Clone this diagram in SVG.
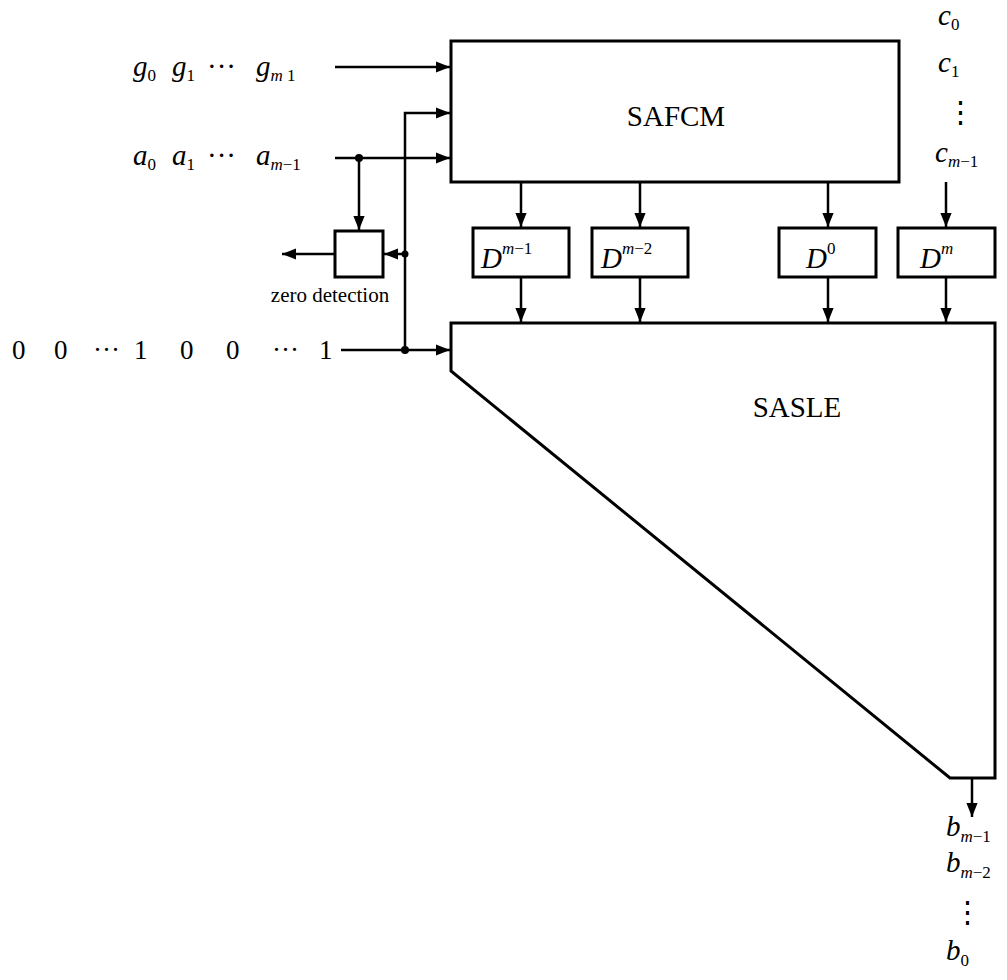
<svg xmlns="http://www.w3.org/2000/svg" width="1007" height="980" viewBox="0 0 1007 980">
<defs>
<marker id="ah" viewBox="0 0 10 10" refX="10" refY="5" markerWidth="14" markerHeight="14" markerUnits="userSpaceOnUse" orient="auto">
<path d="M0,1 L10,5 L0,9 Z" fill="#000"/>
</marker>
<style>
.box{fill:#fff;stroke:#000;stroke-width:3}
.ln{fill:none;stroke:#000;stroke-width:2.5}
.t{font-family:"Liberation Serif",serif;font-size:29px;fill:#000}
.i{font-family:"Liberation Serif",serif;font-style:italic;font-size:29px;fill:#000}
.s{font-family:"Liberation Serif",serif;font-size:17px;fill:#000}
.si{font-family:"Liberation Serif",serif;font-style:italic;font-size:17px;fill:#000}
.num{font-family:"Liberation Serif",serif;font-size:27px;fill:#000}
.lab{font-family:"Liberation Serif",serif;font-size:21px;fill:#000}
</style>
</defs>
<rect width="1007" height="980" fill="#fff"/>

<g id="safcm">
<rect class="box" x="451" y="41" width="448" height="141"/>
<text class="t" x="676" y="126" text-anchor="middle">SAFCM</text>
</g>

<g id="sasle">
<path class="box" d="M451,323 L995,323 L995,778 L950,778 L451,371 Z"/>
<text class="t" x="797" y="417" text-anchor="middle">SASLE</text>
</g>

<g id="d1">
<rect class="box" x="473" y="228" width="96" height="49"/>
<text x="481" y="268"><tspan class="i">D</tspan><tspan class="si" dy="-14">m</tspan><tspan class="s">−1</tspan></text>
</g>
<g id="d2">
<rect class="box" x="592" y="228" width="96" height="49"/>
<text x="601" y="268"><tspan class="i">D</tspan><tspan class="si" dy="-14">m</tspan><tspan class="s">−2</tspan></text>
</g>
<g id="d0">
<rect class="box" x="779" y="228" width="97" height="49"/>
<text x="806" y="268"><tspan class="i">D</tspan><tspan class="s" dy="-14">0</tspan></text>
</g>
<g id="dm">
<rect class="box" x="898" y="228" width="97" height="49"/>
<text x="920" y="268"><tspan class="i">D</tspan><tspan class="si" dy="-14">m</tspan></text>
</g>

<g id="zero">
<rect class="box" x="335" y="231" width="48" height="46"/>
<text class="lab" x="330" y="302" text-anchor="middle">zero detection</text>
</g>

<g id="labels">
<text x="133" y="76"><tspan class="i">g</tspan><tspan class="s" dy="5">0</tspan><tspan class="i" dx="16" dy="-5">g</tspan><tspan class="s" dy="5">1</tspan><tspan class="t" dx="12" dy="-5">···</tspan><tspan class="i" dx="20">g</tspan><tspan class="si" dy="5">m</tspan><tspan class="s"> 1</tspan></text>
<text x="133" y="165"><tspan class="i">a</tspan><tspan class="s" dy="5">0</tspan><tspan class="i" dx="16" dy="-5">a</tspan><tspan class="s" dy="5">1</tspan><tspan class="t" dx="12" dy="-5">···</tspan><tspan class="i" dx="20">a</tspan><tspan class="si" dy="5">m</tspan><tspan class="s">−1</tspan></text>
<g class="num">
<text x="12" y="359">0</text>
<text x="54" y="359">0</text>
<text x="93" y="359">···</text>
<text x="134" y="359">1</text>
<text x="180" y="359">0</text>
<text x="226" y="359">0</text>
<text x="272" y="359">···</text>
<text x="319" y="359">1</text>
</g>
<text x="938" y="25"><tspan class="i">c</tspan><tspan class="s" dy="5">0</tspan></text>
<text x="938" y="72"><tspan class="i">c</tspan><tspan class="s" dy="5">1</tspan></text>
<text class="t" x="946" y="122">⋮</text>
<text x="935" y="162"><tspan class="i">c</tspan><tspan class="si" dy="5">m</tspan><tspan class="s">−1</tspan></text>
<text x="946" y="836"><tspan class="i">b</tspan><tspan class="si" dy="6">m</tspan><tspan class="s">−1</tspan></text>
<text x="946" y="872"><tspan class="i">b</tspan><tspan class="si" dy="6">m</tspan><tspan class="s">−2</tspan></text>
<text class="t" x="953" y="922">⋮</text>
<text x="946" y="960"><tspan class="i">b</tspan><tspan class="s" dy="6">0</tspan></text>
</g>

<g id="connectors">
<line class="ln" x1="335" y1="67" x2="450" y2="67" marker-end="url(#ah)"/>
<line class="ln" x1="335" y1="158" x2="450" y2="158" marker-end="url(#ah)"/>
<polyline class="ln" points="405,350 405,113 450,113" marker-end="url(#ah)"/>
<line class="ln" x1="359" y1="158" x2="359" y2="230" marker-end="url(#ah)"/>
<line class="ln" x1="405" y1="254" x2="384" y2="254" marker-end="url(#ah)"/>
<line class="ln" x1="335" y1="254" x2="282" y2="254" marker-end="url(#ah)"/>
<line class="ln" x1="341" y1="350" x2="450" y2="350" marker-end="url(#ah)"/>
<circle cx="359" cy="158" r="4" fill="#000"/>
<circle cx="405" cy="254" r="3.5" fill="#000"/>
<circle cx="405" cy="350" r="4" fill="#000"/>
<line class="ln" x1="521" y1="182" x2="521" y2="227" marker-end="url(#ah)"/>
<line class="ln" x1="640" y1="182" x2="640" y2="227" marker-end="url(#ah)"/>
<line class="ln" x1="828" y1="182" x2="828" y2="227" marker-end="url(#ah)"/>
<line class="ln" x1="946" y1="182" x2="946" y2="227" marker-end="url(#ah)"/>
<line class="ln" x1="521" y1="277" x2="521" y2="322" marker-end="url(#ah)"/>
<line class="ln" x1="640" y1="277" x2="640" y2="322" marker-end="url(#ah)"/>
<line class="ln" x1="828" y1="277" x2="828" y2="322" marker-end="url(#ah)"/>
<line class="ln" x1="946" y1="277" x2="946" y2="322" marker-end="url(#ah)"/>
<line class="ln" x1="972" y1="778" x2="972" y2="817" marker-end="url(#ah)"/>
</g>
</svg>
